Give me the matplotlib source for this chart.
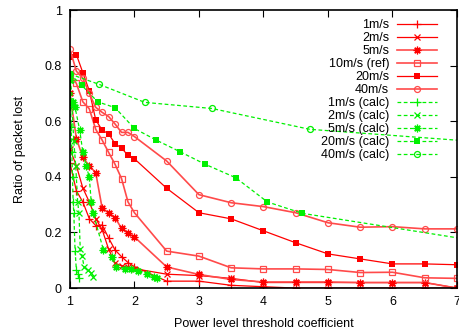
import matplotlib
matplotlib.use("Agg")
import matplotlib.pyplot as plt

plt.rcParams['font.family'] = ['Liberation Sans', 'DejaVu Sans']

# measured curves (x = power level threshold coefficient)
x_ref = [1.0, 1.1, 1.2, 1.3, 1.4, 1.5, 1.6, 1.7, 1.8, 1.9, 2.0,
         2.5, 3.0, 3.5, 4.0, 4.5, 5.0, 5.5, 6.0, 6.5, 7.0]
y_1ms = [0.45, 0.35, 0.31, 0.25, 0.225, 0.227, 0.18, 0.137, 0.113, 0.092, 0.077,
         0.025, 0.025, 0.01, 0.005, 0.0, 0.0, 0.0, 0.0, 0.0, 0.0]
y_2ms = [0.50, 0.44, 0.36, 0.31, 0.25, 0.21, 0.14, 0.09, 0.08, 0.075, 0.07,
         0.05, 0.045, 0.035, 0.02, 0.02, 0.02, 0.02, 0.02, 0.02, 0.0]
y_5ms = [0.70, 0.538, 0.47, 0.44, 0.415, 0.287, 0.271, 0.253, 0.215, 0.197, 0.184,
         0.076, 0.049, 0.031, 0.022, 0.022, 0.022, 0.02, 0.02, 0.02, 0.0]
y_10ms = [0.77, 0.736, 0.67, 0.645, 0.571, 0.532, 0.488, 0.445, 0.394, 0.31, 0.271,
          0.133, 0.115, 0.073, 0.069, 0.069, 0.067, 0.056, 0.057, 0.037, 0.035]
y_20ms = [0.83, 0.84, 0.775, 0.71, 0.605, 0.568, 0.555, 0.519, 0.504, 0.477, 0.465,
          0.359, 0.271, 0.249, 0.206, 0.163, 0.123, 0.105, 0.087, 0.087, 0.084]
y_40ms = [0.86, 0.78, 0.755, 0.70, 0.65, 0.632, 0.617, 0.59, 0.56, 0.56, 0.545,
          0.457, 0.336, 0.307, 0.293, 0.271, 0.235, 0.219, 0.221, 0.213, 0.213]

# calculated curves
x_1c = [1.0, 1.01, 1.02, 1.03, 1.04, 1.05, 1.06, 1.08, 1.1, 1.12, 1.14]
y_1c = [0.74, 0.66, 0.58, 0.49, 0.40, 0.31, 0.27, 0.135, 0.065, 0.05, 0.035]
x_2c = [1.0, 1.03, 1.06, 1.09, 1.12, 1.14, 1.16, 1.19, 1.22, 1.28, 1.32, 1.36]
y_2c = [0.75, 0.66, 0.53, 0.44, 0.31, 0.27, 0.14, 0.115, 0.075, 0.065, 0.055, 0.04]
x_5c = [1.0, 1.05, 1.08, 1.15, 1.2, 1.25, 1.3, 1.33, 1.36, 1.52, 1.65, 1.72,
        1.85, 1.95, 2.05, 2.2, 2.3, 2.35]
y_5c = [0.75, 0.67, 0.65, 0.57, 0.49, 0.44, 0.40, 0.31, 0.27, 0.137, 0.113, 0.077,
        0.07, 0.068, 0.06, 0.05, 0.04, 0.035]
x_20c = [1.0, 1.18, 1.43, 1.70, 2.0, 2.34, 2.71, 3.10, 3.57, 4.06, 4.6, 7.0]
y_20c = [0.77, 0.73, 0.67, 0.649, 0.574, 0.532, 0.49, 0.445, 0.397, 0.31, 0.269, 0.181]
x_40c = [1.0, 1.45, 2.16, 3.2, 4.72, 7.0]
y_40c = [0.77, 0.733, 0.668, 0.646, 0.571, 0.532]

RED = '#ff0000'
LRED = '#ff4a4a'
GREEN = '#00f000'
ast = (8, 2, 0)

fig = plt.figure(figsize=(4.6, 3.35), dpi=100)
ax = fig.add_axes([0.152, 0.140, 0.8415, 0.830])

ms = 4.3
ax.plot(x_ref, y_1ms, color=RED, lw=0.9, marker='+', ms=5.5, mew=0.9, label='1m/s')
ax.plot(x_ref, y_2ms, color=RED, lw=0.9, marker='x', ms=4.5, mew=0.9, label='2m/s')
ax.plot(x_ref, y_5ms, color=LRED, lw=1.2, marker=ast, ms=5.5, mew=0.9, mec=RED, label='5m/s')
ax.plot(x_ref, y_10ms, color=LRED, lw=1.2, marker='s', ms=ms, mfc='none', mew=0.9, label='10m/s (ref)')
ax.plot(x_ref, y_20ms, color=RED, lw=0.9, marker='s', ms=ms, mew=0, label='20m/s')
ax.plot(x_ref, y_40ms, color=LRED, lw=1.2, marker='o', ms=ms, mfc='none', mew=0.9, label='40m/s')

dash = (0, (3, 2))
ax.plot(x_1c, y_1c, color=GREEN, lw=0.9, ls=dash, marker='+', ms=5.5, mew=0.9, label='1m/s (calc)')
ax.plot(x_2c, y_2c, color=GREEN, lw=0.9, ls=dash, marker='x', ms=4.5, mew=0.9, label='2m/s (calc)')
ax.plot(x_5c, y_5c, color=GREEN, lw=0.9, ls=dash, marker=ast, ms=5.5, mew=0.9, label='5m/s (calc)')
ax.plot(x_20c, y_20c, color=GREEN, lw=0.9, ls=dash, marker='s', ms=ms, mew=0,
        markevery=list(range(len(x_20c) - 1)), label='20m/s (calc)')
ax.plot(x_40c, y_40c, color=GREEN, lw=0.9, ls=dash, marker='o', ms=ms, mfc='none', mew=0.9,
        markevery=list(range(len(x_40c) - 1)), label='40m/s (calc)')

ax.set_xlim(1, 7)
ax.set_ylim(0, 1)
ax.set_xticks([1, 2, 3, 4, 5, 6, 7])
ax.set_yticks([0, 0.2, 0.4, 0.6, 0.8, 1])
ax.set_yticklabels(['0', '0.2', '0.4', '0.6', '0.8', '1'])
ax.tick_params(direction='in', top=True, right=True, length=5, labelsize=9, pad=6)
for s in ax.spines.values():
    s.set_linewidth(1.2)

ax.set_xlabel('Power level threshold coefficient', fontsize=9, labelpad=7)
ax.set_ylabel('Ratio of packet lost', fontsize=9, labelpad=13)

leg = ax.legend(loc='upper right', bbox_to_anchor=(0.96, 0.985), frameon=False,
                markerfirst=False, fontsize=9, handlelength=3.2, handletextpad=0.6,
                labelspacing=0.08, borderaxespad=0)
for t in leg.get_texts():
    t.set_ha('right')

fig.savefig('out.png', dpi=100)
